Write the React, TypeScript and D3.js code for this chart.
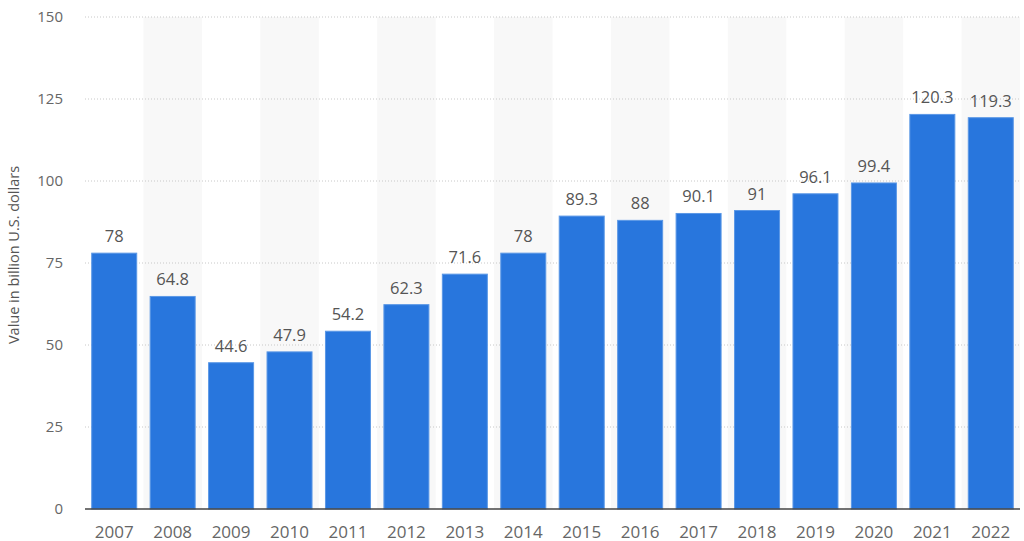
import React from "react";
import * as d3 from "d3";

const years = ["2007","2008","2009","2010","2011","2012","2013","2014","2015","2016","2017","2018","2019","2020","2021","2022"];
const values = [78, 64.8, 44.6, 47.9, 54.2, 62.3, 71.6, 78, 89.3, 88, 90.1, 91, 96.1, 99.4, 120.3, 119.3];
const yTicks = [0, 25, 50, 75, 100, 125, 150];
const yTitle = "Value in billion U.S. dollars";

export default function App() {
  const W = 1024, H = 541;
  const left = 85, right = 1020, top = 17, bottom = 509;
  const x = d3.scaleBand<string>().domain(years).range([left, right]).paddingInner(0.23).paddingOuter(0.115);
  const band = d3.scaleBand<string>().domain(years).range([left, right]).padding(0);
  const y = d3.scaleLinear().domain([0, 150]).range([bottom, top]);
  const font = "'Open Sans', sans-serif";
  return (
    <svg width={W} height={H} style={{ position: "absolute", left: 0, top: 0 }} fontFamily={font}>
      {years.map((yr, i) => i % 2 === 1 ? (
        <rect key={"bg" + yr} x={band(yr)} y={top} width={band.bandwidth()} height={bottom - top} fill="#f8f8f8" />
      ) : null)}
      {yTicks.map(t => (
        <g key={"t" + t}>
          {t > 0 && <line x1={left} x2={right} y1={y(t)} y2={y(t)} stroke="#c8c8c8" strokeDasharray="1,2" />}
          <text x={63} y={y(t)} dy="0.35em" textAnchor="end" fontSize={15} fill="#666">{t}</text>
        </g>
      ))}
      {years.map((yr, i) => (
        <g key={"b" + yr}>
          <rect x={x(yr)} y={y(values[i])} width={x.bandwidth()} height={bottom - y(values[i])} fill="#2876dd" stroke="#5b98e6" strokeWidth={1} />
          <text x={x(yr)! + x.bandwidth() / 2} y={y(values[i]) - 11} textAnchor="middle" fontSize={16.5} fill="#555">{values[i]}</text>
          <text x={band(yr)! + band.bandwidth() / 2} y={537.5} textAnchor="middle" fontSize={17} fill="#666">{yr}</text>
        </g>
      ))}
      <line x1={left} x2={right} y1={bottom} y2={bottom} stroke="#444" strokeWidth={1.5} />
      <text transform={`translate(19,${255}) rotate(-90)`} textAnchor="middle" fontSize={14.5} fill="#555">{yTitle}</text>
    </svg>
  );
}
